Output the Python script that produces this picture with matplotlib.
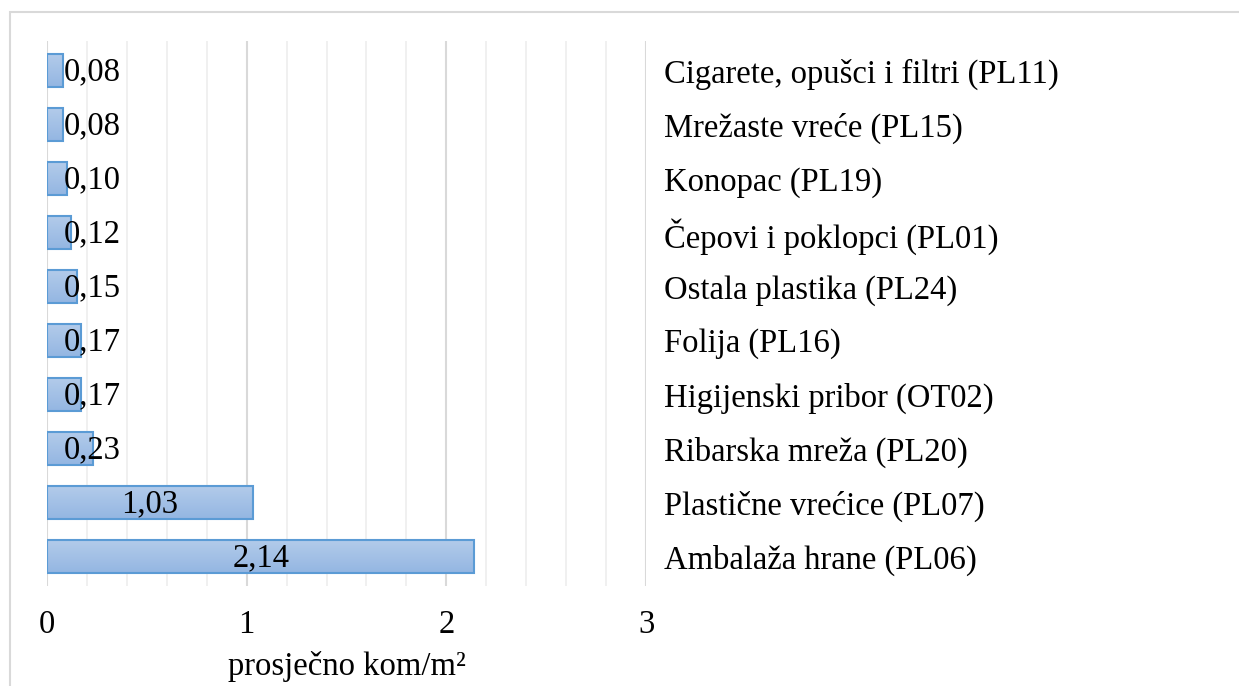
import matplotlib
matplotlib.use("Agg")
import matplotlib.pyplot as plt
import numpy as np
from matplotlib.patches import Rectangle
from matplotlib.colors import LinearSegmentedColormap
from matplotlib.ticker import MultipleLocator

plt.rcParams['font.family'] = ['Liberation Serif', 'DejaVu Serif']

# bottom to top
categories = [
    "Ambalaža hrane (PL06)",
    "Plastične vrećice (PL07)",
    "Ribarska mreža (PL20)",
    "Higijenski pribor (OT02)",
    "Folija (PL16)",
    "Ostala plastika (PL24)",
    "Čepovi i poklopci (PL01)",
    "Konopac (PL19)",
    "Mrežaste vreće (PL15)",
    "Cigarete, opušci i filtri (PL11)",
]
values = [2.14, 1.03, 0.23, 0.17, 0.17, 0.15, 0.12, 0.10, 0.08, 0.08]
xticks = [0, 1, 2, 3]
xlabel = "prosječno kom/m²"

FS = 23.5
W, H = 1239, 686
fig = plt.figure(figsize=(W / 100, H / 100), dpi=100)
ax = fig.add_axes([47 / W, 1 - 586 / H, (646 - 47) / W, (586 - 41) / H])

# outer frame of the chart object
fig.patches.append(Rectangle((10 / W, -0.05), 1.2, 1 - 12 / H + 0.05,
                             transform=fig.transFigure, fill=False,
                             edgecolor="#d9d9d9", linewidth=1.5))

y = np.arange(len(categories))
bars = ax.barh(y, values, height=0.6, color="none", edgecolor="#5b9bd5",
               linewidth=1.5, zorder=3)

cmap = LinearSegmentedColormap.from_list("g", ["#94b6e2", "#b2cbea"])
grad = np.linspace(0, 1, 50).reshape(-1, 1)
for b in bars:
    x0, y0 = b.get_x(), b.get_y()
    w, h = b.get_width(), b.get_height()
    im = ax.imshow(grad, extent=(x0, x0 + w, y0, y0 + h), origin="lower",
                   cmap=cmap, aspect="auto", zorder=2)
    im.set_clip_path(b)

for yi, v in zip(y, values):
    xc = max(v / 2, 0.225)
    ax.text(xc, yi - 0.03, f"{v:.2f}".replace(".", ","), ha="center", va="center",
            fontsize=FS, color="black", zorder=4)

ax.set_xlim(0, 3)
ax.set_ylim(-0.55, len(categories) - 0.45)
ax.set_xticks(xticks)
ax.xaxis.set_minor_locator(MultipleLocator(0.2))
ax.grid(axis="x", which="major", color="#d9d9d9", linewidth=1.5, zorder=0)
ax.grid(axis="x", which="minor", color="#eeeeee", linewidth=1.2, zorder=0)
ax.tick_params(axis="x", which="both", length=0, pad=17, labelsize=FS)

ax.set_yticks(y)
ax.set_yticklabels(categories)
ax.yaxis.tick_right()
ax.tick_params(axis="y", length=0, pad=13, labelsize=FS)

for s in ax.spines.values():
    s.set_visible(False)

ax.set_xlabel(xlabel, fontsize=FS, labelpad=8)

fig.savefig("out.png", dpi=100)
